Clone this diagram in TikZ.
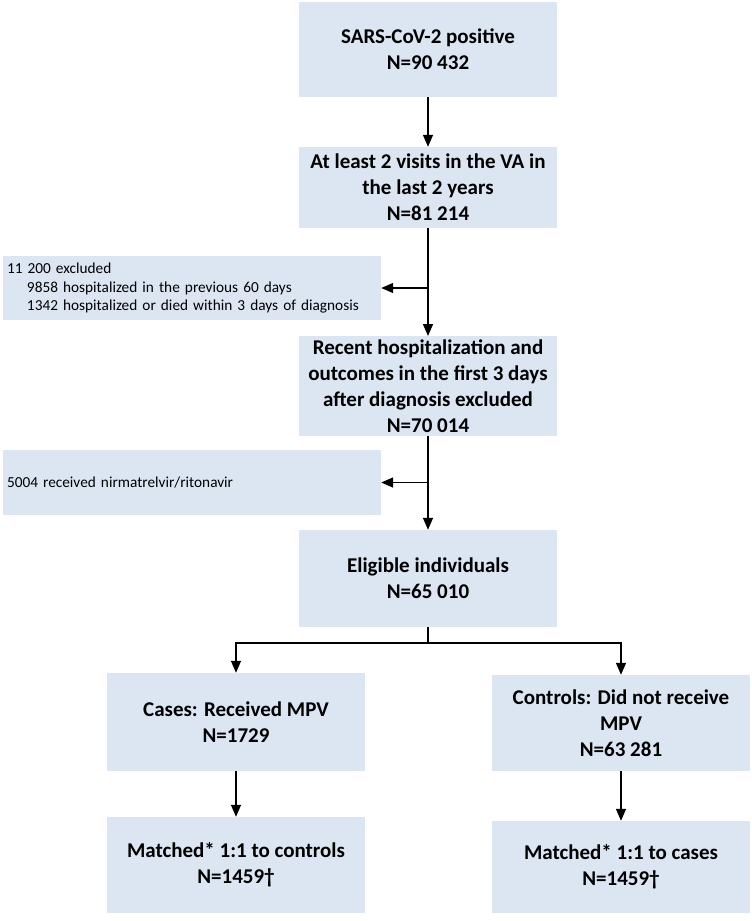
\documentclass[tikz,border=0pt]{standalone}
\usepackage{fontspec}
\setmainfont{Carlito}
\usetikzlibrary{arrows.meta}
\definecolor{boxblue}{HTML}{DCE6F2}
\begin{document}
\begin{tikzpicture}[x=1pt, y=-1pt,
  box/.style={fill=boxblue, minimum width=258pt, align=center,
    font=\fontsize{21}{26}\selectfont\bfseries},
  sidebox/.style={fill=boxblue, minimum width=378pt, align=left,
    text width=370pt, inner xsep=4pt, font=\fontsize{15.3}{18.3}\selectfont},
  arr/.style={line width=1.4pt, -{Triangle[length=12pt, width=10pt]}},
  line/.style={line width=1.4pt}]
\useasboundingbox (0,0) rectangle (752,921);
% main column
\node [box, minimum height=95pt] (sars) at (428,49.5) {SARS-CoV-2 positive\\N=90 432};
\node [box, minimum height=81pt] (visits) at (428,187.5) {At least 2 visits in the VA in\\the last 2 years\\N=81 214};
\node [box, minimum height=98pt] (recent) at (428,386) {Recent hospitalization and\\outcomes in the first 3 days\\after diagnosis excluded\\N=70 014};
\node [box, minimum height=97pt] (eligible) at (428,578.5) {Eligible individuals\\N=65 010};
% exclusions
\node [sidebox, minimum height=64pt] (excl1) at (192,288) {11 200 excluded\\\hspace*{20pt}9858 hospitalized in the previous 60 days\\\hspace*{20pt}1342 hospitalized or died within 3 days of diagnosis};
\node [sidebox, minimum height=65pt] (excl2) at (192,482.5) {5004 received nirmatrelvir/ritonavir};
% two arms
\node [box, minimum height=98pt] (cases) at (236,722) {Cases: Received MPV\\N=1729};
\node [box, minimum height=96pt] (controls) at (621,723) {Controls: Did not receive\\MPV\\N=63 281};
\node [box, minimum height=96pt] (matchcases) at (236,865) {Matched* 1:1 to controls\\N=1459†};
\node [box, minimum height=92pt] (matchcontrols) at (621,867) {Matched* 1:1 to cases\\N=1459†};
% connectors
\coordinate (j1) at (visits.south |- excl1.east);
\coordinate (j2) at (recent.south |- excl2.east);
\coordinate (split) at (428,643);
\draw [arr] (sars) -- (visits);
\draw [arr] (visits) -- (recent);
\draw [arr] (j1) -- (excl1.east);
\draw [arr] (recent) -- (eligible);
\draw [arr] (j2) -- (excl2.east);
\draw [line] (eligible) -- (split);
\draw [arr] (split) -| (cases.north);
\draw [arr] (split) -| (controls.north);
\draw [arr] (cases) -- (matchcases);
\draw [arr] (controls) -- (matchcontrols);
\end{tikzpicture}
\end{document}
